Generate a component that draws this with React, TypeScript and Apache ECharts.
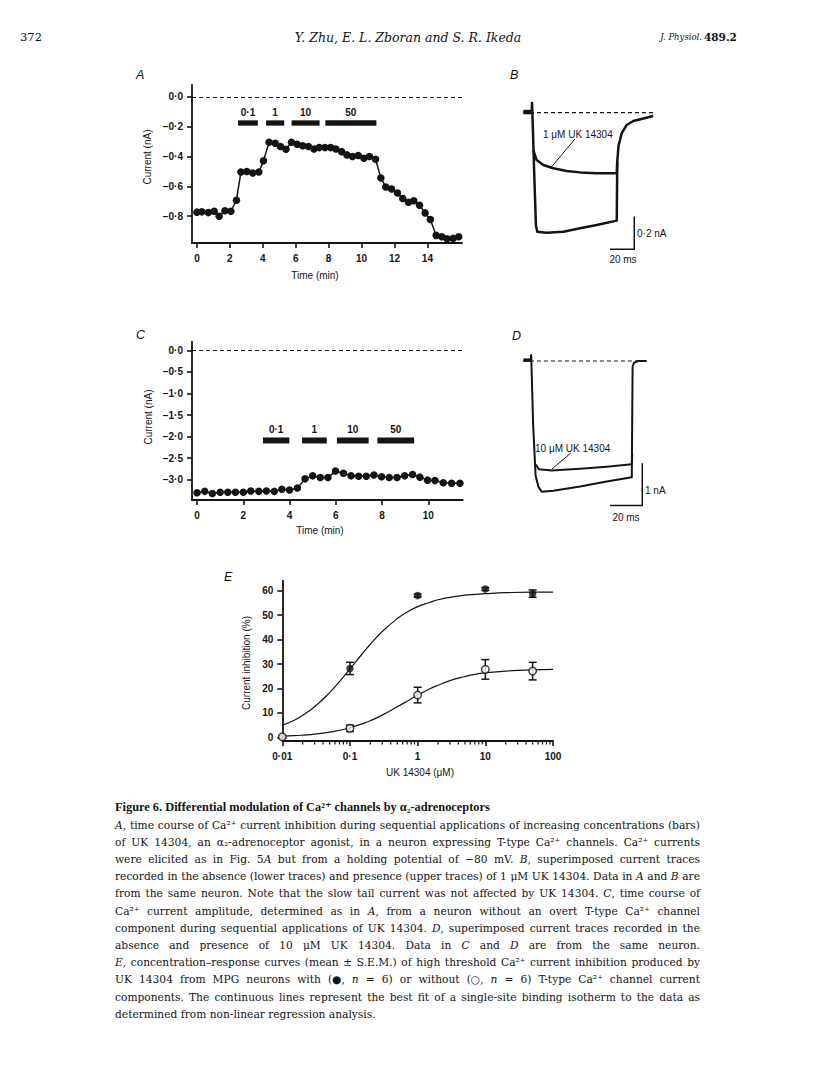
import React, { useEffect, useRef } from "react";
import * as echarts from "echarts";

const SANS = '"Liberation Sans", Arial, Helvetica, sans-serif';
const SERIF = '"DejaVu Serif", "Liberation Serif", serif';
const SERIF_B = '"Liberation Serif", "DejaVu Serif", serif';
const INK = "#141414";

// ---------- Panel A : time course (T-type neuron)
const timeA = [0, 0.3, 0.69, 1.05, 1.35, 1.7, 2.06, 2.4, 2.67, 3.03, 3.39, 3.76, 4.04, 4.38, 4.75, 5.07, 5.41, 5.74, 6.08, 6.42, 6.77, 7.11, 7.43, 7.78, 8.12, 8.44, 8.79, 9.11, 9.45, 9.8, 10.14, 10.48, 10.85, 11.17, 11.47, 11.82, 12.18, 12.5, 12.85, 13.17, 13.52, 13.86, 14.18, 14.53, 14.87, 15.19, 15.56, 15.9];
const currentA = [-0.773, -0.771, -0.776, -0.767, -0.8, -0.764, -0.767, -0.693, -0.504, -0.5, -0.511, -0.504, -0.429, -0.304, -0.311, -0.333, -0.351, -0.304, -0.318, -0.327, -0.333, -0.349, -0.34, -0.34, -0.34, -0.349, -0.367, -0.389, -0.4, -0.393, -0.411, -0.4, -0.418, -0.544, -0.604, -0.618, -0.644, -0.682, -0.707, -0.696, -0.727, -0.778, -0.822, -0.929, -0.938, -0.951, -0.949, -0.938];
const drugLabels = ["0·1", "1", "10", "50"];
const drugStartA = [2.5, 4.2, 5.75, 7.8];
const drugEndA = [3.7, 5.3, 7.45, 10.9];
const drugLevelA = -0.175;
const xTicksA = [0, 2, 4, 6, 8, 10, 12, 14];
const yTicksA = [0, -0.2, -0.4, -0.6, -0.8];

// ---------- Panel B : current traces (ms, nA)
const bLowerT = [0, 0.3, 1, 2, 3.5, 4.6, 12.3, 26, 39.8, 53.5, 70, 70.4, 71.5, 72.7, 74, 78.2, 83.6, 91.9, 100];
const bLowerI = [0, 0.06, -0.1, -0.35, -0.69, -0.728, -0.734, -0.728, -0.707, -0.687, -0.66, -0.3, -0.2, -0.167, -0.126, -0.075, -0.051, -0.035, -0.02];
const bUpperT = [1.3, 4, 9.6, 17.8, 28.8, 39.8, 53.5, 70, 70.4];
const bUpperI = [-0.228, -0.289, -0.32, -0.34, -0.357, -0.365, -0.371, -0.371, -0.3];
const bHoldT = [-6.9, 0];
const bHoldI = [0.004, 0.004];
const bBaseT = [-1.4, 101.6];
const bPointerT = [35.6, 16.5];
const bPointerI = [-0.161, -0.33];
const bScaleT = [64.4, 84.4, 84.4];
const bScaleI = [-0.835, -0.835, -0.635];

// ---------- Panel C : time course (no T-type)
const timeC = [0, 0.33, 0.66, 1.0, 1.33, 1.66, 2.0, 2.32, 2.67, 3.0, 3.34, 3.67, 4.0, 4.34, 4.67, 5.0, 5.33, 5.66, 5.99, 6.33, 6.66, 6.99, 7.32, 7.65, 7.98, 8.31, 8.65, 8.98, 9.32, 9.64, 9.97, 10.29, 10.65, 11.01, 11.37];
const currentC = [-3.3, -3.27, -3.32, -3.29, -3.29, -3.29, -3.29, -3.26, -3.27, -3.26, -3.27, -3.22, -3.24, -3.19, -2.98, -2.91, -2.95, -2.95, -2.8, -2.85, -2.91, -2.92, -2.92, -2.89, -2.93, -2.95, -2.95, -2.91, -2.88, -2.94, -3.01, -3.02, -3.07, -3.08, -3.08];
const drugStartC = [2.85, 4.54, 6.05, 7.8];
const drugEndC = [3.99, 5.61, 7.42, 9.39];
const drugLevelC = -2.09;
const xTicksC = [0, 2, 4, 6, 8, 10];
const yTicksC = [0, -0.5, -1, -1.5, -2, -2.5, -3];

// ---------- Panel D : current traces (ms, nA)
const dLowerT = [0, 0.3, 1.5, 3, 4.7, 6.8, 14, 30.5, 47, 62.5, 63, 63.9, 66.5, 71.7];
const dLowerI = [0, 0.14, -1.5, -2.7, -2.97, -3.09, -3.07, -2.97, -2.85, -2.75, -0.13, -0.04, 0, 0];
const dUpperT = [3.2, 5, 13, 30.5, 47, 62.5, 62.8];
const dUpperI = [-2.45, -2.56, -2.59, -2.55, -2.5, -2.44, -2.2];
const dHoldT = [-4.5, 0];
const dHoldI = [0.02, 0.02];
const dBaseT = [-4.8, 71.7];
const dPointerT = [24.7, 13];
const dPointerI = [-2.18, -2.56];
const dScaleT = [49, 69, 69];
const dScaleI = [-3.42, -3.42, -2.42];

// ---------- Panel E : concentration-response
const concFilled = [0.1, 1, 10, 50];
const inhibFilled = [28.2, 58.0, 60.7, 58.8];
const errFilled = [2.5, 0.6, 0.6, 1.5];
const concOpen = [0.01, 0.1, 1, 10, 50];
const inhibOpen = [0.2, 3.7, 17.3, 27.8, 27.1];
const errOpen = [0.5, 1.3, 3.2, 4.0, 3.6];
const fitConc = [0.01, 0.015, 0.02, 0.03, 0.05, 0.07, 0.1, 0.15, 0.2, 0.3, 0.5, 0.7, 1, 1.5, 2, 3, 5, 7, 10, 20, 50, 100];
const fitFilled = [4.9, 7.0, 9.0, 12.5, 18.3, 22.8, 28.0, 34.0, 38.1, 43.3, 48.6, 51.3, 53.5, 55.2, 56.3, 57.3, 58.2, 58.5, 58.8, 59.2, 59.4, 59.4];
const fitOpen = [0.45, 0.67, 0.9, 1.3, 2.1, 2.9, 3.9, 5.5, 6.8, 9.1, 12.5, 14.8, 17.3, 19.8, 21.3, 23.2, 24.9, 25.8, 26.4, 27.1, 27.6, 27.8];
const xTickLabelsE = ["0·01", "0·1", "1", "10", "100"];
const minorTicksE = [0.02, 0.03, 0.04, 0.05, 0.06, 0.07, 0.08, 0.09, 0.2, 0.3, 0.4, 0.5, 0.6, 0.7, 0.8, 0.9, 2, 3, 4, 5, 6, 7, 8, 9, 20, 30, 40, 50, 60, 70, 80, 90];
const yTicksE = [0, 10, 20, 30, 40, 50, 60];

// ---------- Caption
const CAPTION_TITLE = "Figure 6. Differential modulation of Ca²⁺ channels by α₂-adrenoceptors";
const CAPTION_LINES = [
  "*A*, time course of Ca²⁺ current inhibition during sequential applications of increasing concentrations (bars)",
  "of UK 14304, an α₂-adrenoceptor agonist, in a neuron expressing T-type Ca²⁺ channels. Ca²⁺ currents",
  "were elicited as in Fig. 5*A* but from a holding potential of −80 mV. *B*, superimposed current traces",
  "recorded in the absence (lower traces) and presence (upper traces) of 1 μM UK 14304. Data in *A* and *B* are",
  "from the same neuron. Note that the slow tail current was not affected by UK 14304. *C*, time course of",
  "Ca²⁺ current amplitude, determined as in *A*, from a neuron without an overt T-type Ca²⁺ channel",
  "component during sequential applications of UK 14304. *D*, superimposed current traces recorded in the",
  "absence and presence of 10 μM UK 14304. Data in *C* and *D* are from the same neuron.",
  "*E*, concentration–response curves (mean ± S.E.M.) of high threshold Ca²⁺ current inhibition produced by",
  "UK 14304 from MPG neurons with (●, *n* = 6) or without (○, *n* = 6) T-type Ca²⁺ channel current",
  "components. The continuous lines represent the best fit of a single-site binding isotherm to the data as",
  "determined from non-linear regression analysis.",
];

const pairs = (xs: number[], ys: number[]) => xs.map((x, i) => [x, ys[i]]);
const fmt = (v: number, d: number) => {
  const s = Math.abs(v).toFixed(d).replace(".", "·");
  return v < -1e-9 ? "−" + s : s;
};

const tickLabel = {
  color: INK,
  fontFamily: SANS,
  fontSize: 10,
  fontWeight: "bold" as const,
};

function visAxis(gridIndex: number, min: number, max: number, ticks: number[], fmtFn: (v: number) => string, margin: number) {
  return {
    gridIndex,
    type: "value",
    min,
    max,
    axisLine: { show: true, onZero: false, lineStyle: { color: INK, width: 1.8 } },
    axisTick: { show: true, customValues: ticks, length: 5, lineStyle: { color: INK, width: 1.6 } },
    axisLabel: { show: true, customValues: ticks, formatter: fmtFn, margin, ...tickLabel },
    splitLine: { show: false },
  };
}

function hiddenAxis(gridIndex: number, min: number, max: number) {
  return { gridIndex, type: "value", min, max, show: false, splitLine: { show: false } };
}

function drugSeries(axis: number, starts: number[], ends: number[], level: number, h: number) {
  return {
    type: "custom",
    xAxisIndex: axis,
    yAxisIndex: axis,
    silent: true,
    encode: { x: [0, 1], y: 2 },
    data: starts.map((s, i) => [s, ends[i], level]),
    renderItem: (params: any, api: any) => {
      const a = api.coord([api.value(0), api.value(2)]);
      const b = api.coord([api.value(1), api.value(2)]);
      return {
        type: "group",
        children: [
          { type: "rect", shape: { x: a[0], y: a[1] - h / 2, width: b[0] - a[0], height: h }, style: { fill: INK } },
          {
            type: "text",
            x: (a[0] + b[0]) / 2,
            y: a[1] - h / 2 - 2.5,
            style: { text: drugLabels[params.dataIndex], align: "center", verticalAlign: "bottom", fill: INK, fontFamily: SANS, fontSize: 10, fontWeight: "bold" },
          },
        ],
      };
    },
  };
}

function timeSeries(axis: number, xs: number[], ys: number[]) {
  return {
    type: "line",
    xAxisIndex: axis,
    yAxisIndex: axis,
    data: pairs(xs, ys),
    symbol: "circle",
    symbolSize: 7.5,
    showSymbol: true,
    clip: false,
    lineStyle: { color: INK, width: 1.5 },
    itemStyle: { color: INK },
    markLine: {
      silent: true,
      symbol: ["none", "none"],
      label: { show: false },
      lineStyle: { type: [4, 3], color: INK, width: 1.2 },
      data: [{ yAxis: 0 }],
    },
    z: 3,
  };
}

function trace(axis: number, xs: number[], ys: number[], width: number, dashed = false) {
  return {
    type: "line",
    xAxisIndex: axis,
    yAxisIndex: axis,
    data: pairs(xs, ys),
    symbol: "none",
    clip: false,
    silent: true,
    lineStyle: { color: INK, width, type: dashed ? [4, 3] : "solid", join: "round" },
  };
}

function errorSeries(xs: number[], ys: number[], es: number[]) {
  return {
    type: "custom",
    xAxisIndex: 4,
    yAxisIndex: 4,
    silent: true,
    z: 2,
    data: xs.map((x, i) => [x, ys[i], es[i]]),
    encode: { x: 0, y: 1 },
    renderItem: (_p: any, api: any) => {
      const x = api.value(0), y = api.value(1), e = api.value(2);
      const t = api.coord([x, y + e]);
      const b = api.coord([x, y - e]);
      const st = { stroke: INK, lineWidth: 1.5 };
      return {
        type: "group",
        children: [
          { type: "line", shape: { x1: t[0], y1: t[1], x2: b[0], y2: b[1] }, style: st },
          { type: "line", shape: { x1: t[0] - 4, y1: t[1], x2: t[0] + 4, y2: t[1] }, style: st },
          { type: "line", shape: { x1: b[0] - 4, y1: b[1], x2: b[0] + 4, y2: b[1] }, style: st },
        ],
      };
    },
  };
}

function txt(text: string, x: number, y: number, opts: any = {}) {
  return {
    type: "text",
    x,
    y,
    rotation: opts.rotation || 0,
    silent: true,
    style: {
      text,
      fill: INK,
      fontFamily: opts.family || SANS,
      fontSize: opts.size || 10,
      fontWeight: opts.weight || "normal",
      fontStyle: opts.style || "normal",
      align: opts.align || "left",
      verticalAlign: "middle",
    },
  };
}

const CAP_LEFT = 115;
const CAP_RIGHT = 700;
const CAP_TITLE_RIGHT = 490;
const CAP_Y0 = 825;
const CAP_DY = 17.2;

function captionElements(): any[] {
  const els: any[] = [];
  const ctx = document.createElement("canvas").getContext("2d") as CanvasRenderingContext2D;
  const measure = (t: string, it: boolean, size: number, fam = SERIF, bold = false) => {
    ctx.font = `${it ? "italic " : ""}${bold ? "bold " : ""}${size}px ${fam}`;
    return ctx.measureText(t).width;
  };
  const parse = (line: string, size: number) =>
    line.split(" ").map((w) => {
      const segs = w
        .split("*")
        .map((t, k) => ({ t, it: k % 2 === 1 }))
        .filter((s) => s.t.length > 0);
      const widths = segs.map((s) => measure(s.t, s.it, size));
      return { segs, widths, w: widths.reduce((a, b) => a + b, 0) };
    });
  // largest size at which every justified line still fits with normal spaces
  let scale = Infinity;
  CAPTION_LINES.slice(0, -1).forEach((line) => {
    const ws = parse(line, 10);
    const natural = ws.reduce((a, w) => a + w.w, 0) + (ws.length - 1) * measure(" ", false, 10);
    scale = Math.min(scale, (CAP_RIGHT - CAP_LEFT) / natural);
  });
  const size = Math.min(11.5, 10 * scale * 0.995);
  CAPTION_LINES.forEach((line, li) => {
    const y = CAP_Y0 + li * CAP_DY;
    const words = parse(line, size);
    const total = words.reduce((a, w) => a + w.w, 0);
    const justify = li < CAPTION_LINES.length - 1 && words.length > 1;
    const gap = justify ? (CAP_RIGHT - CAP_LEFT - total) / (words.length - 1) : measure(" ", false, size);
    let x = CAP_LEFT;
    words.forEach((w) => {
      let xx = x;
      w.segs.forEach((s, k) => {
        els.push(txt(s.t, xx, y, { family: SERIF, size, style: s.it ? "italic" : "normal" }));
        xx += w.widths[k];
      });
      x += w.w + gap;
    });
  });
  const titleW10 = measure(CAPTION_TITLE, false, 10, SERIF_B, true);
  const titleSize = Math.min(13, (10 * (CAP_TITLE_RIGHT - CAP_LEFT)) / titleW10);
  els.push(txt(CAPTION_TITLE, CAP_LEFT, 807, { family: SERIF_B, size: titleSize, weight: "bold" }));
  return els;
}

export default function App() {
  const ref = useRef<HTMLDivElement>(null);
  useEffect(() => {
    if (!ref.current) return;
    const chart = echarts.init(ref.current, undefined, { renderer: "svg" });
    const gridBase = { outerBoundsMode: "none", containLabel: false };
    const option: any = {
      animation: false,
      backgroundColor: "#ffffff",
      grid: [
        { ...gridBase, left: 192, top: 85, width: 270, height: 158 },
        { ...gridBase, left: 525.6, top: 96.35, width: 133.7, height: 163.5 },
        { ...gridBase, left: 192, top: 341.7, width: 270.7, height: 158.3 },
        { ...gridBase, left: 521, top: 348.3, width: 131, height: 160.7 },
        { ...gridBase, left: 282.3, top: 580.7, width: 270.7, height: 160.3 },
      ],
      xAxis: [
        visAxis(0, -0.3, 16.1, xTicksA, (v) => String(v), 10),
        hiddenAxis(1, -5, 105),
        visAxis(2, -0.22, 11.49, xTicksC, (v) => String(v), 10),
        hiddenAxis(3, -6, 75),
        {
          gridIndex: 4,
          type: "log",
          logBase: 10,
          min: 0.01,
          max: 100,
          axisLine: { show: true, onZero: false, lineStyle: { color: INK, width: 1.8 } },
          axisTick: { show: true, length: 5, lineStyle: { color: INK, width: 1.6 } },
          axisLabel: {
            margin: 10,
            formatter: (v: number) => xTickLabelsE[Math.round(Math.log10(v)) + 2] ?? String(v),
            ...tickLabel,
          },
          splitLine: { show: false },
        },
      ],
      yAxis: [
        visAxis(0, -0.98, 0.08, yTicksA, (v) => fmt(v, 1), 9),
        hiddenAxis(1, -0.9, 0.1),
        visAxis(2, -3.47, 0.2, yTicksC, (v) => fmt(v, 1), 9),
        hiddenAxis(3, -3.5, 0.3),
        visAxis(4, -1.5, 64.1, yTicksE, (v) => String(v), 9),
      ],
      series: [
        // A
        timeSeries(0, timeA, currentA),
        drugSeries(0, drugStartA, drugEndA, drugLevelA, 5.3),
        // B
        trace(1, bBaseT, [0, 0], 1.2, true),
        trace(1, bHoldT, bHoldI, 4.5),
        trace(1, bLowerT, bLowerI, 2.5),
        trace(1, bUpperT, bUpperI, 2.5),
        trace(1, bPointerT, bPointerI, 1),
        trace(1, bScaleT, bScaleI, 1.5),
        // C
        timeSeries(2, timeC, currentC),
        drugSeries(2, drugStartC, drugEndC, drugLevelC, 6),
        // D
        trace(3, dBaseT, [0, 0], 1.2, true),
        trace(3, dHoldT, dHoldI, 3.5),
        trace(3, dLowerT, dLowerI, 2),
        trace(3, dUpperT, dUpperI, 2),
        trace(3, dPointerT, dPointerI, 1),
        trace(3, dScaleT, dScaleI, 1.5),
        // E
        {
          type: "line",
          xAxisIndex: 4,
          yAxisIndex: 4,
          data: pairs(fitConc, fitFilled),
          symbol: "none",
          smooth: true,
          silent: true,
          lineStyle: { color: INK, width: 1.2 },
        },
        {
          type: "line",
          xAxisIndex: 4,
          yAxisIndex: 4,
          data: pairs(fitConc, fitOpen),
          symbol: "none",
          smooth: true,
          silent: true,
          lineStyle: { color: INK, width: 1.2 },
        },
        errorSeries(concFilled, inhibFilled, errFilled),
        errorSeries(concOpen, inhibOpen, errOpen),
        {
          type: "scatter",
          xAxisIndex: 4,
          yAxisIndex: 4,
          data: pairs(concFilled, inhibFilled),
          symbol: "circle",
          symbolSize: 7.5,
          clip: false,
          z: 4,
          itemStyle: { color: INK },
        },
        {
          type: "scatter",
          xAxisIndex: 4,
          yAxisIndex: 4,
          data: pairs(concOpen, inhibOpen),
          symbol: "circle",
          symbolSize: 7.5,
          clip: false,
          z: 4,
          itemStyle: { color: "#ffffff", borderColor: INK, borderWidth: 1.5 },
        },
        {
          type: "custom",
          xAxisIndex: 4,
          yAxisIndex: 4,
          silent: true,
          data: minorTicksE.map((v) => [v, -1.5]),
          encode: { x: 0, y: 1 },
          renderItem: (_p: any, api: any) => {
            const p = api.coord([api.value(0), api.value(1)]);
            return { type: "line", shape: { x1: p[0], y1: p[1], x2: p[0], y2: p[1] + 3.5 }, style: { stroke: INK, lineWidth: 1.2 } };
          },
        },
      ],
      graphic: [
        // running header
        txt("372", 20, 37, { family: SERIF, size: 11.5 }),
        txt("Y. Zhu, E. L. Zboran and S. R. Ikeda", 408, 37, { family: SERIF, size: 12.5, style: "italic", align: "center" }),
        txt("J. Physiol.", 702, 37, { family: SERIF, size: 8.5, style: "italic", align: "right" }),
        txt("489.2", 704, 37, { family: SERIF, size: 10.5, weight: "bold" }),
        // panel letters
        txt("A", 136, 75, { size: 12.5, style: "italic" }),
        txt("B", 510, 75, { size: 12.5, style: "italic" }),
        txt("C", 136, 335, { size: 12.5, style: "italic" }),
        txt("D", 512, 336, { size: 12.5, style: "italic" }),
        txt("E", 224, 577, { size: 12.5, style: "italic" }),
        // axis names
        txt("Current (nA)", 147, 157, { size: 10, rotation: Math.PI / 2, align: "center" }),
        txt("Time (min)", 315, 275, { size: 10, align: "center" }),
        txt("Current (nA)", 148, 417, { size: 10, rotation: Math.PI / 2, align: "center" }),
        txt("Time (min)", 320, 530, { size: 10, align: "center" }),
        txt("Current inhibition (%)", 246, 663, { size: 10, rotation: Math.PI / 2, align: "center" }),
        txt("UK 14304 (μM)", 420, 772, { size: 10, align: "center" }),
        // trace annotations and scale bars
        txt("1 μM UK 14304", 543, 134, { size: 10 }),
        txt("0·2 nA", 637, 233, { size: 10 }),
        txt("20 ms", 623, 259, { size: 10, align: "center" }),
        txt("10 μM UK 14304", 535, 448, { size: 10 }),
        txt("1 nA", 645, 490, { size: 10 }),
        txt("20 ms", 626, 517, { size: 10, align: "center" }),
        // caption
        ...captionElements(),
      ],
    };
    chart.setOption(option);
    return () => chart.dispose();
  }, []);
  return (
    <div
      ref={ref}
      style={{ position: "absolute", left: 0, top: 0, width: 816, height: 1066, background: "#fff" }}
    />
  );
}
